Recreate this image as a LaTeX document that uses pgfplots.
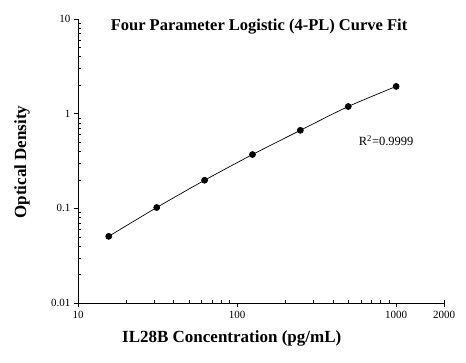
\documentclass[border=0pt]{standalone}
\usepackage{pgfplots}
\pgfplotsset{compat=1.18}
\usepackage{fontspec}
\setmainfont{Liberation Serif}
\begin{document}
\begin{tikzpicture}[x=1pt,y=1pt]
\useasboundingbox (0,0) rectangle (466,363);
\begin{axis}[
  at={(78pt,60pt)}, anchor=south west,
  scale only axis, width=366pt, height=284pt,
  xmode=log, ymode=log,
  xmin=10, xmax=2000, ymin=0.01, ymax=10,
  axis x line*=bottom, axis y line*=left,
  axis line style={-, line width=0.7pt},
  tick align=outside,
  major tick length=4pt, minor tick length=-3pt,
  tick style={black, line width=0.6pt},
  xtick={10,100,1000,2000}, xticklabels={10,100,1000,2000},
  minor xtick={20,30,40,50,60,70,80,90,200,300,400,500,600,700,800,900,2000},
  ytick={0.01,0.1,1,10}, yticklabels={0.01,0.1,1,10},
  minor ytick={0.02,0.03,0.04,0.05,0.06,0.07,0.08,0.09,0.2,0.3,0.4,0.5,0.6,0.7,0.8,0.9,2,3,4,5,6,7,8,9},
  ticklabel style={font=\fontsize{11}{13}\selectfont},
  xticklabel style={yshift=-1pt},
  xlabel={\textbf{IL28B Concentration (pg/mL)}},
  label style={font=\fontsize{17}{19}\selectfont},
  xlabel style={at={(axis description cs:0.42,0)}, anchor=center, yshift=-35pt},
  clip=false,
]
\addplot[black, line width=0.7pt, smooth, mark=*, mark size=3pt, mark options={fill=black}]
  coordinates {(15.6,0.0506) (31.25,0.102) (62.5,0.198) (125,0.37) (250,0.667) (500,1.19) (1000,1.94)};
\node[font=\fontsize{12.5}{14}\selectfont] at (axis cs:865,0.52) {R\textsuperscript{2}=0.9999};
\end{axis}
\node[font=\bfseries\fontsize{17}{19}\selectfont, rotate=90] at (22,201) {Optical Density};
\node[font=\bfseries\fontsize{16.5}{18}\selectfont] at (259,336) {Four Parameter Logistic (4-PL) Curve Fit};
\end{tikzpicture}
\end{document}
